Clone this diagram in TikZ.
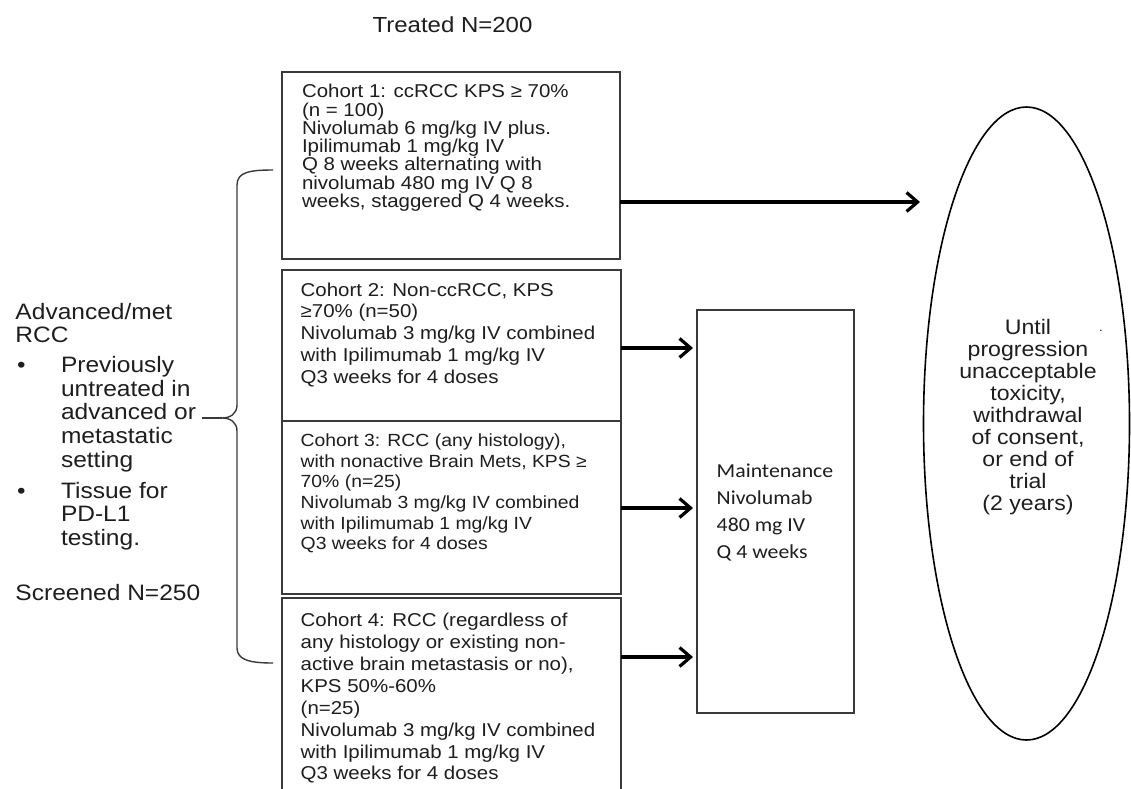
\documentclass[tikz,border=0pt]{standalone}
\usepackage{fontspec}
\setmainfont[FakeStretch=1.1]{Liberation Sans}
\newfontfamily\calfont[FakeStretch=1.1]{Carlito}
\usetikzlibrary{arrows.meta,shapes.geometric}
\definecolor{ink}{HTML}{1E1E1E}
\definecolor{boxline}{HTML}{3A3A3A}
\newcommand{\critbullet}{\makebox[45.5pt][l]{\hspace{1.5pt}{\fontsize{22pt}{22pt}\selectfont •}}}
\newcommand{\critindent}{\hspace*{45.5pt}}
\tikzset{
  cbox/.style={draw=boxline, line width=1.5pt, rectangle, inner sep=0pt, outer sep=0pt},
  txt/.style={text=ink, inner sep=0pt, outer sep=0pt},
  arr/.style={draw=black, line width=3.2pt, -{Straight Barb[length=11pt,width=19pt]}},
  bracepath/.style={draw=boxline, line width=1.4pt}
}
\begin{document}
\begin{tikzpicture}[x=1pt,y=-1pt]
\fill[white] (0,0) rectangle (1131,788);
\clip (0,0) rectangle (1131,788);

% title
\node[txt, font=\fontsize{21.8pt}{22pt}\selectfont, anchor=base] (treated) at (452.5,32.5) {Treated N=200};

% cohort boxes
\node[cbox, minimum width=338pt, minimum height=187pt] (c1) at (451,165.5) {};
\node[cbox, minimum width=339pt, minimum height=151pt] (c2) at (451.5,345.5) {};
\node[cbox, minimum width=339pt, minimum height=173pt] (c3) at (451.5,507.5) {};
\node[cbox, minimum width=339pt, minimum height=212pt] (c4) at (451.5,704) {};

\node[txt, font=\fontsize{18.6pt}{18.3pt}\selectfont, anchor=north west, align=left] (c1t) at (302,84.3)
 {Cohort 1: ccRCC KPS ≥ 70\%\\(n = 100)\\Nivolumab 6 mg/kg IV plus.\\Ipilimumab 1 mg/kg IV\\Q 8 weeks alternating with\\nivolumab 480 mg IV Q 8\\weeks, staggered Q 4 weeks.};
\node[txt, font=\fontsize{18.6pt}{21.8pt}\selectfont, anchor=north west, align=left] (c2t) at (300.7,282.6)
 {Cohort 2: Non-ccRCC, KPS\\≥70\% (n=50)\\Nivolumab 3 mg/kg IV combined\\with Ipilimumab 1 mg/kg IV\\Q3 weeks for 4 doses};
\node[txt, font=\fontsize{17.6pt}{20.6pt}\selectfont, anchor=north west, align=left] (c3t) at (300.7,433.9)
 {Cohort 3: RCC (any histology),\\with nonactive Brain Mets, KPS ≥\\70\% (n=25)\\Nivolumab 3 mg/kg IV combined\\with Ipilimumab 1 mg/kg IV\\Q3 weeks for 4 doses};
\node[txt, font=\fontsize{18.6pt}{21.9pt}\selectfont, anchor=north west, align=left] (c4t) at (300.7,613.2)
 {Cohort 4: RCC (regardless of\\any histology or existing non-\\active brain metastasis or no),\\KPS 50\%-60\%\\(n=25)\\Nivolumab 3 mg/kg IV combined\\with Ipilimumab 1 mg/kg IV\\Q3 weeks for 4 doses};

% maintenance
\node[cbox, minimum width=157pt, minimum height=403pt] (maint) at (775.5,511.5) {};
\node[txt, font=\calfont\fontsize{19.8pt}{27pt}\selectfont, anchor=north west, align=left] (maintt) at (716.7,463.6)
 {Maintenance\\Nivolumab\\480 mg IV\\Q 4 weeks};

% ellipse
\node[ellipse, draw=black, line width=1.6pt, minimum width=206pt, minimum height=633pt, inner sep=0pt] (ell) at (1026.5,423.5) {};
\node[txt, font=\fontsize{21pt}{22.1pt}\selectfont, anchor=north, align=center] (ellt) at (1028,318.8)
 {Until\\progression\\unacceptable\\toxicity,\\withdrawal\\of consent,\\or end of\\trial\\(2 years)};
\node[txt, font=\fontsize{12pt}{12pt}\selectfont, anchor=base] (elldot) at (1101,331) {.};

% left criteria
\node[txt, font=\fontsize{22.3pt}{23.7pt}\selectfont, anchor=north west, align=left] (crit) at (15.5,303)
 {Advanced/met\\RCC\\[6pt]\critbullet Previously\\\critindent untreated in\\\critindent advanced or\\\critindent metastatic\\\critindent setting\\[7pt]\critbullet Tissue for\\\critindent PD-L1\\\critindent testing.};
\node[txt, font=\fontsize{22.3pt}{23.7pt}\selectfont, anchor=base west] (screened) at (15.5,600) {Screened N=250};

% brace
\coordinate (cusp) at (222,418);
\coordinate (tail) at (202,418);
\path[bracepath] (273,170) .. controls (250,170) and (237,172) .. (237,185) -- (237,405)
  .. controls (237,414) and (230,418) .. (cusp)
  .. controls (230,418) and (237,422) .. (237,431) -- (237,648)
  .. controls (237,660) and (250,663) .. (273,663);
\draw[bracepath] (tail) -- (cusp);

% arrows
\coordinate (a1e) at (920,202);
\coordinate (a2) at (0,348);
\coordinate (a3) at (0,508);
\coordinate (a4) at (0,657);
\draw[arr] (c1.east |- a1e) -- (a1e);
\draw[arr] (c2.east |- a2) -- ([xshift=-4pt]maint.west |- a2);
\draw[arr] (c3.east |- a3) -- ([xshift=-4pt]maint.west |- a3);
\draw[arr] (c4.east |- a4) -- ([xshift=-4pt]maint.west |- a4);
\end{tikzpicture}
\end{document}
